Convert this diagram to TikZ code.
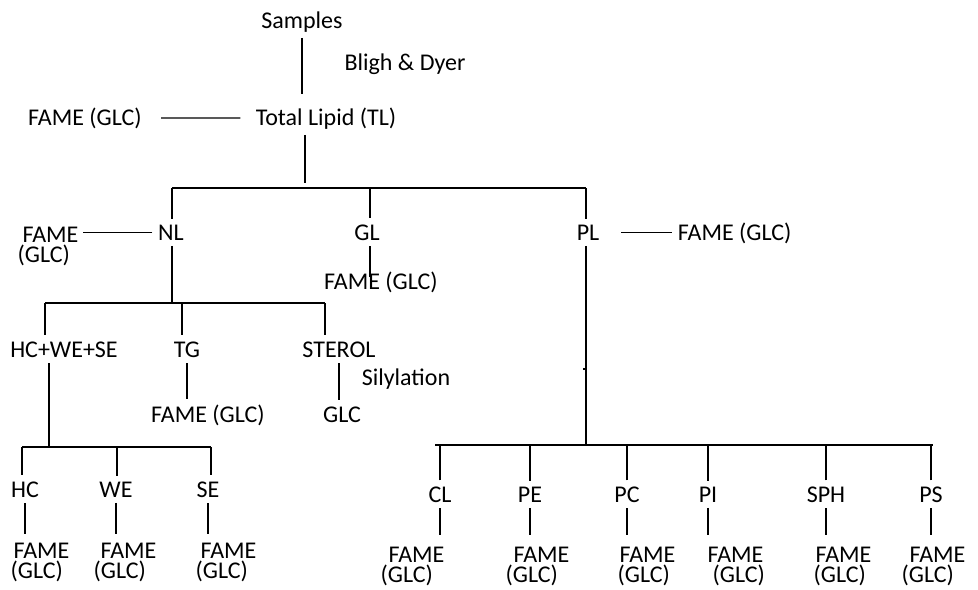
\documentclass[tikz,border=0pt]{standalone}
\usepackage{fontspec}
\setmainfont{Carlito}
\usetikzlibrary{calc}
\tikzset{every picture/.style={line width=0.9pt},
  lbl/.style={inner sep=4pt,anchor=base,font=\fontsize{18}{14}\selectfont},
  fg/.style={inner sep=0pt,anchor=north west,align=left,font=\fontsize{18}{15.5}\selectfont}}
\newcommand{\fameglc}[2]{\hspace*{#1pt}FAME\\\hspace*{#2pt}(GLC)}

\begin{document}
\begin{tikzpicture}[x=0.75pt,y=-0.75pt]
\useasboundingbox (0,0) rectangle (978,589);
% extraction
\node[lbl] (samples) at (302,28) {Samples};
\node[lbl] (bligh) at (405,70) {Bligh \& Dyer};
\node[lbl] (tl) at (326,125) {Total Lipid (TL)};
\node[lbl] (fametl) at (85,125) {FAME (GLC)};
\draw[shorten >=6pt] (samples) -- (samples |- tl.north);
\draw[shorten <=10pt,shorten >=7pt] (fametl) -- (tl);
% lipid classes
\coordinate (b1l) at (172,188);
\coordinate (b1m) at (370,188);
\coordinate (b1r) at (586,188);
\coordinate (tlj) at (305,188);
\draw (tl.south -| tlj) -- ($(tlj)+(0,-5)$);
\draw (b1l) -- (b1r);
\node[lbl] (nl) at (171,240) {NL};
\node[lbl] (gl) at (367,240) {GL};
\node[lbl] (pl) at (588,240) {PL};
\draw (b1l) -- (b1l |- nl.north);
\draw (b1m) -- (b1m |- gl.north);
\draw (b1r) -- (b1r |- pl.north);
\node[fg] (famenl) at (17,226) {\fameglc{3.75}{0}};
\node[lbl] (famegl) at (381,289) {FAME (GLC)};
\node[lbl,anchor=base west] (famepl) at (672,240) {FAME (GLC)};
\draw[shorten >=3pt] (nl.west) -- (nl.west -| famenl.east);
\draw[shorten >=4pt] (gl.south -| b1m) -- (famegl.center -| b1m);
\draw[shorten <=12pt] (pl.east) -- (pl.east -| famepl.west);
% neutral lipids
\coordinate (b2l) at (45,303);
\coordinate (b2m) at (182,303);
\coordinate (b2r) at (325,303);
\draw (nl.south -| b1l) -- (b1l |- b2l);
\draw (b2l) -- (b2r);
\node[lbl] (hws) at (64,357) {HC+WE+SE};
\node[lbl] (tg) at (187,357) {TG};
\node[lbl] (sterol) at (339,357) {STEROL};
\draw (b2l) -- (b2l |- hws.north);
\draw (b2m) -- (b2m |- tg.north);
\draw (b2r) -- (b2r |- sterol.north);
\node[lbl] (fametg) at (208,422) {FAME (GLC)};
\node[lbl] (glc) at (342,422) {GLC};
\node[lbl] (silyl) at (406,385) {Silylation};
\draw (tg.south) -- (tg.south |- fametg.north);
\draw (sterol.south) -- (sterol.south |- glc.north);
% HC, WE, SE
\coordinate (b3l) at (22,447);
\coordinate (b3m) at (117,447);
\coordinate (b3r) at (211,447);
\coordinate (hwsj) at (49,447);
\draw (hws.south -| hwsj) -- (hwsj);
\draw (b3l) -- (b3r);
\foreach \n/\t/\x in {hc/HC/25,we/WE/116,se/SE/208}
  \node[lbl] (\n) at (\x,497) {\t};
\draw (b3l) -- (b3l |- hc.north);
\draw (b3m) -- (b3m |- we.north);
\draw (b3r) -- (b3r |- se.north);
\foreach \n/\x/\a in {hc/10/2.25,we/93/5.25,se/195/3.75}
  \node[fg] (f\n) at (\x,542) {\fameglc{\a}{0}};
\foreach \n in {hc,we,se}
  \draw[shorten >=6pt] (\n.south) -- (\n.south |- f\n.north);
% polar lipids
\coordinate (b4l) at (435,445);
\coordinate (b4r) at (933,445);
\coordinate (tick) at (583,369);
\draw (pl.south -| b1r) -- (b1r |- b4l);
\draw (tick) -- (tick -| b1r);
\draw (b4l) -- (b4r);
\foreach \n/\t/\x in {cl/CL/440,pe/PE/530,pc/PC/627,pi/PI/708,sph/SPH/826,ps/PS/931}
  \node[lbl] (\n) at (\x,502) {\t};
\foreach \n/\x/\a/\b in {cl/380/6/0,pe/505/6/0,pc/617/1.5/0,pi/707/0/3.75,sph/813/1.5/0,ps/901/6/0}
  \node[fg] (f\n) at (\x,546) {\fameglc{\a}{\b}};
\foreach \n in {cl,pe,pc,pi,sph,ps}{
  \draw (\n.north) -- (\n.north |- b4l);
  \draw[shorten >=8pt] (\n.south) -- (\n.south |- f\n.north);
}
\end{tikzpicture}
\end{document}
